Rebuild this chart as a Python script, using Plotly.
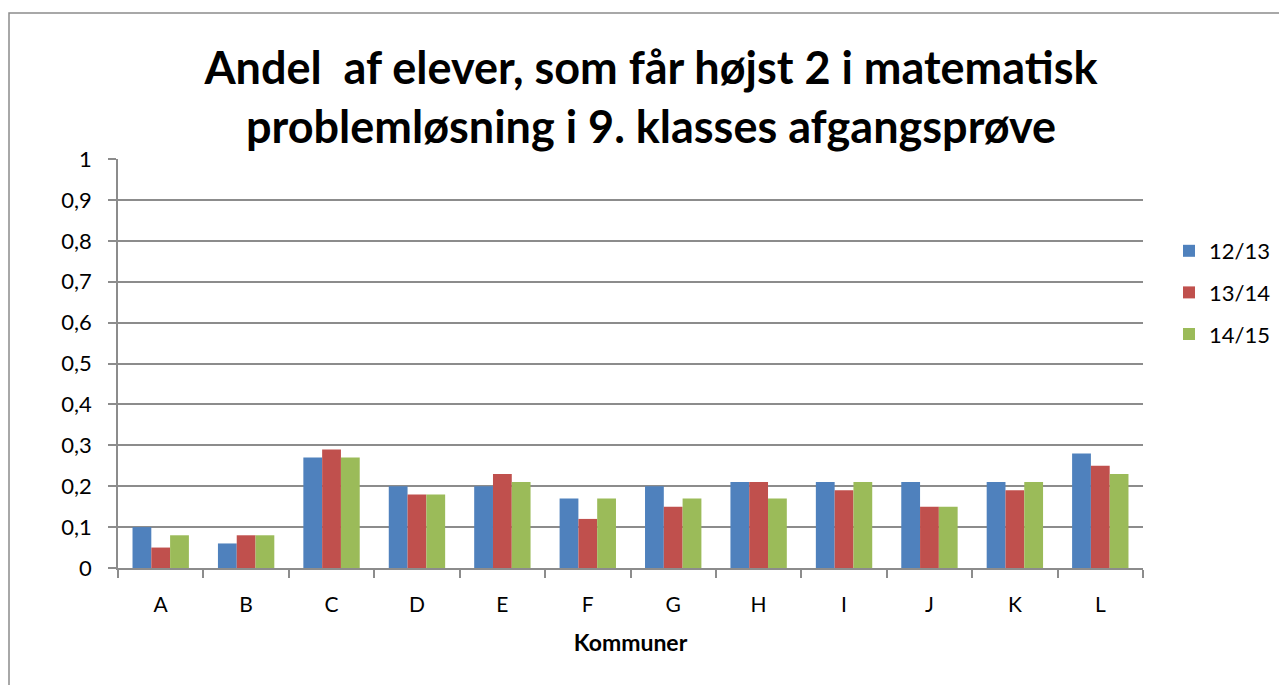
import plotly.graph_objects as go

categories = ["A", "B", "C", "D", "E", "F", "G", "H", "I", "J", "K", "L"]
s_12_13 = [0.10, 0.06, 0.27, 0.20, 0.20, 0.17, 0.20, 0.21, 0.21, 0.21, 0.21, 0.28]
s_13_14 = [0.05, 0.08, 0.29, 0.18, 0.23, 0.12, 0.15, 0.21, 0.19, 0.15, 0.19, 0.25]
s_14_15 = [0.08, 0.08, 0.27, 0.18, 0.21, 0.17, 0.17, 0.17, 0.21, 0.15, 0.21, 0.23]
series_names = ["12/13", "13/14", "14/15"]
colors = ["#4F81BD", "#C0504D", "#9BBB59"]

title_text = "Andel  af elever, som får højst 2 i matematisk<br>problemløsning i 9. klasses afgangsprøve"
x_title = "Kommuner"

FONT = "Lato"
GRID = "#8C8C8C"

W, H = 1279, 685
L, R, T, B = 118, 1279 - 1143, 159, 685 - 568
pw, ph = W - L - R, H - T - B

fig = go.Figure()
for name, vals, col in zip(series_names, [s_12_13, s_13_14, s_14_15], colors):
    fig.add_trace(go.Bar(
        x=categories, y=vals, name=name, legendgroup=name,
        marker=dict(color=col, line=dict(width=0)),
    ))

fig.update_layout(
    width=W, height=H,
    margin=dict(l=L, r=R, t=T, b=B, autoexpand=False),
    paper_bgcolor="white", plot_bgcolor="white",
    separators=",.",
    barmode="group", bargap=0.34, bargroupgap=0.0,
    font=dict(family=FONT, color="black"),
    title=dict(
        text="<b>" + title_text + "</b>",
        x=(651 - L) / pw, xref="paper", xanchor="center",
        y=1 - 84 / H, yref="container", yanchor="middle",
        font=dict(family=FONT, size=45, color="black"),
    ),
    legend=dict(
        x=(1169 - L) / pw, xanchor="left",
        y=(568 - 230) / ph, yanchor="top",
        font=dict(family=FONT, size=22, color="black"),
        traceorder="grouped", tracegroupgap=10,
        bgcolor="rgba(0,0,0,0)",
    ),
    xaxis=dict(
        showline=True, linecolor=GRID, linewidth=1.5,
        ticks="outside", tickson="boundaries", ticklen=8, tickcolor=GRID, tickwidth=1.5,
        tickfont=dict(family=FONT, size=21, color="black"),
        ticklabelstandoff=17,
        title=dict(text="<b>" + x_title + "</b>", font=dict(family=FONT, size=23, color="black"), standoff=20),
        showgrid=False,
    ),
    yaxis=dict(
        range=[0, 1], dtick=0.1, tick0=0,
        showline=True, linecolor=GRID, linewidth=1.5,
        ticks="outside", ticklen=8, tickcolor=GRID, tickwidth=1.5,
        tickfont=dict(family=FONT, size=22, color="black"),
        ticklabelstandoff=12,
        showgrid=True, gridcolor=GRID, gridwidth=1.5,
        zeroline=False,
    ),
    shapes=[dict(
        type="rect", xref="paper", yref="paper",
        x0=(9 - L) / pw, x1=(1300 - L) / pw,
        y0=(568 - 700) / ph, y1=(568 - 13) / ph,
        line=dict(color="#8C8C8C", width=1.5), fillcolor="rgba(0,0,0,0)", layer="below",
    )],
)

fig.write_html("out.html", config={"displayModeBar": False},
               post_script="document.body.style.margin='0px';")
